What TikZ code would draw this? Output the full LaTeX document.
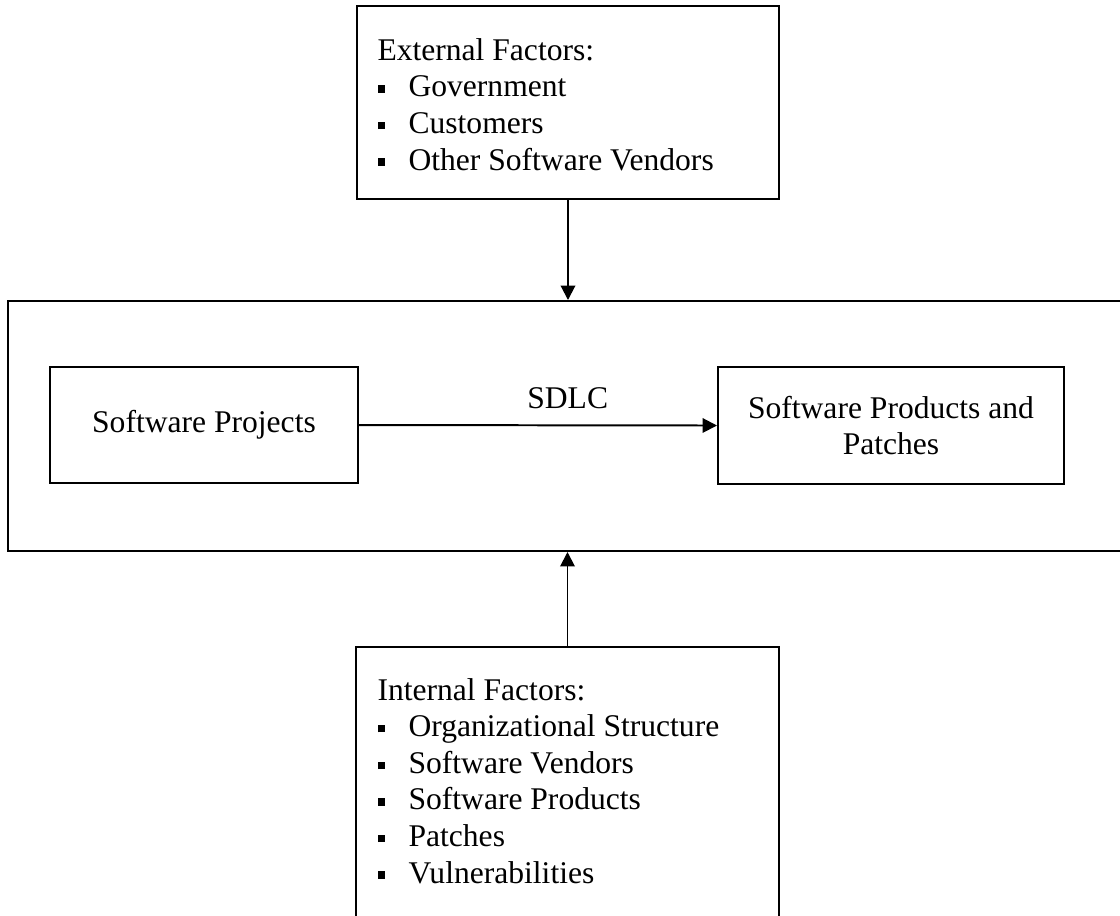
\documentclass[tikz,border=0pt]{standalone}
\usepackage{fontspec}
\setmainfont{Liberation Serif}
\usetikzlibrary{arrows.meta}
\newcommand{\sqbullet}{\makebox[11.8pt][l]{\raisebox{1.6pt}{\rule{2.8pt}{2.8pt}}}}
\begin{document}
\begin{tikzpicture}[x=0.38pt,y=-0.38pt,
	box/.style={draw, line width=0.75pt, rectangle, inner sep=0pt},
	pfeil/.style={line width=0.75pt, -{Triangle[length=5.5pt,width=5.5pt]}},
	font=\fontsize{12}{13.9}\selectfont]
	\useasboundingbox (0,0) rectangle (1120,915);
	
	\node[box, minimum width=1122*0.38pt, minimum height=250*0.38pt] (rahmen) at (569,426) {};%SDLC Rahmen
	\node[box, minimum width=308*0.38pt, minimum height=116*0.38pt] (projekte) at (204,425) {Software Projects};
	\node[box, minimum width=346*0.38pt, minimum height=117*0.38pt, align=center] (produkte) at (891,425.5) {Software Products and\\Patches};
	
	\node[box, minimum width=422*0.38pt, minimum height=193*0.38pt] (extern) at (568,102.5) {};%externe Faktoren
	\node[anchor=base west, inner sep=0pt, align=left] (externtext) at (377,170) {External Factors:\\
		\sqbullet Government\\
		\sqbullet Customers\\
		\sqbullet Other Software Vendors};
	
	\node[box, minimum width=423*0.38pt, minimum height=278*0.38pt] (intern) at (567.5,786) {};%interne Faktoren
	\node[anchor=base west, inner sep=0pt, align=left] (interntext) at (377,883) {Internal Factors:\\
		\sqbullet Organizational Structure\\
		\sqbullet Software Vendors\\
		\sqbullet Software Products\\
		\sqbullet Patches\\
		\sqbullet Vulnerabilities};
	
	\draw[pfeil] (projekte.east) -- (produkte.west) node[pos=0.583, above=2.7pt] {SDLC};
	\draw[pfeil] (extern.south) -- (extern.south |- rahmen.north);
	\draw[pfeil] (intern.north) -- (intern.north |- rahmen.south);
\end{tikzpicture}
\end{document}
